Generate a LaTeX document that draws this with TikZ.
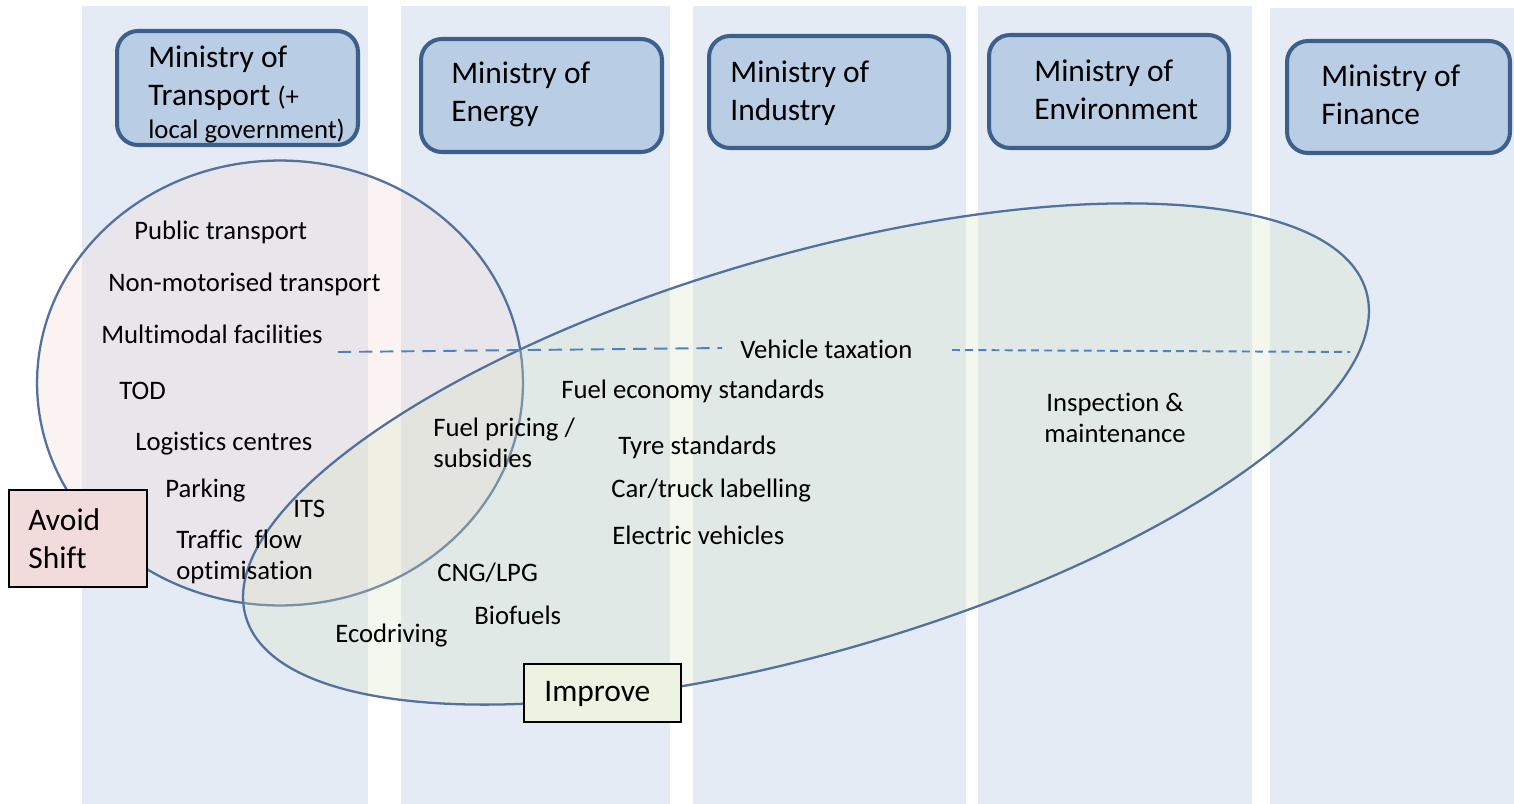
\documentclass[tikz,border=0pt]{standalone}
\usepackage{fontspec}
\setmainfont{Carlito}[Ligatures=NoCommon]
\definecolor{colbg}{HTML}{E4EBF5}
\definecolor{minfill}{HTML}{B9CDE5}
\definecolor{minline}{HTML}{3D5F8B}
\definecolor{ellline}{HTML}{52719F}
\definecolor{avoidfill}{HTML}{F2DCDB}
\definecolor{impfill}{HTML}{D7E4BD}
\definecolor{dashcol}{HTML}{4F81BD}
\begin{document}
\begin{tikzpicture}[x=0.02cm,y=-0.02cm,
  colstripe/.style={fill=colbg},
  minbox/.style={draw=minline, line width=2.3pt, fill=minfill, rounded corners=0.42cm, inner sep=0pt},
  mintext/.style={anchor=west, align=left, inner sep=0pt, font=\fontsize{17.9}{21.7}\selectfont},
  lbl/.style={anchor=west, align=left, inner sep=0pt, font=\fontsize{15.2}{18}\selectfont},
  avoidell/.style={draw=ellline, line width=1.3pt, fill=avoidfill, fill opacity=0.35},
  impell/.style={draw=ellline, line width=1.3pt, fill=impfill, fill opacity=0.28},
  catbox/.style={draw=black, line width=0.9pt, inner sep=0pt},
  vtdash/.style={draw=dashcol, line width=1.1pt, dash pattern=on 7.5pt off 4.5pt},
  vtdash2/.style={draw=dashcol, line width=1.1pt, dash pattern=on 4.5pt off 3pt}
]
\useasboundingbox (0,0) rectangle (1514,804);
% column stripes
\fill[colstripe] (82,6) rectangle (368,804);
\fill[colstripe] (401,6) rectangle (670,804);
\fill[colstripe] (693,6) rectangle (966,804);
\fill[colstripe] (978,6) rectangle (1252,804);
\fill[colstripe] (1270,8) rectangle (1514,804);

% ministry boxes
\node[minbox, minimum width=4.82cm, minimum height=2.28cm] (m1) at (237.5,88) {};
\node[minbox, minimum width=4.82cm, minimum height=2.26cm] (m2) at (541.5,95.5) {};
\node[minbox, minimum width=4.80cm, minimum height=2.24cm] (m3) at (829,92) {};
\node[minbox, minimum width=4.80cm, minimum height=2.26cm] (m4) at (1109,91.5) {};
\node[minbox, minimum width=4.46cm, minimum height=2.24cm] (m5) at (1398.5,97) {};

\node[mintext] (m1t) at (148,94) {Ministry of\\Transport {\fontsize{15.2}{17}\selectfont(+}\\[-3pt]{\fontsize{15.2}{17}\selectfont local government)}};
\node[mintext] (m2t) at (451,94.5) {Ministry of\\Energy};
\node[mintext] (m3t) at (730,93.5) {Ministry of\\Industry};
\node[mintext] (m4t) at (1034,89.5) {Ministry of\\Environment};
\node[mintext] (m5t) at (1321,94.5) {Ministry of\\Finance};

% avoid/shift ellipse and improve ellipse
\path[avoidell] (280,383) ellipse [x radius=4.86cm, y radius=4.45cm];
\path[impell] (806,454) ellipse [x radius=11.67cm, y radius=3.97cm, rotate=16.2];

% vehicle taxation dashed lines
\node[lbl] (vt) at (740,349) {Vehicle taxation};
\coordinate (d1a) at (338,352);
\coordinate (d1b) at (722,348);
\coordinate (d2a) at (952,350);
\coordinate (d2b) at (1350,352);
\draw[vtdash] (d1a) -- (d1b);
\draw[vtdash2] (d2a) -- (d2b);

% labels
\node[lbl] (pt) at (134,232) {Public transport};
\node[lbl] (nmt) at (108,284) {Non-motorised transport};
\node[lbl] (mmf) at (101,334) {Multimodal facilities};
\node[lbl] (tod) at (119,391) {TOD};
\node[lbl] (lc) at (135,444) {Logistics centres};
\node[lbl] (park) at (165,491) {Parking};
\node[lbl] (its) at (293,509) {ITS};
\node[lbl] (tfo) at (176,557) {Traffic\ \ flow\\optimisation};
\node[lbl] (fes) at (561,391) {Fuel economy standards};
\node[lbl] (fps) at (433,443) {Fuel pricing /\\subsidies};
\node[lbl] (tyre) at (618,447) {Tyre standards};
\node[lbl] (ctl) at (611,491) {Car/truck labelling};
\node[lbl] (ev) at (612,535) {Electric vehicles};
\node[lbl] (cng) at (437,573) {CNG/LPG};
\node[lbl] (bio) at (474,615) {Biofuels};
\node[lbl] (eco) at (335,636) {Ecodriving};
\node[lbl, align=center, anchor=center] (im) at (1115,418) {Inspection \&\\maintenance};

% category boxes
\node[catbox, fill=avoidfill, minimum width=2.76cm, minimum height=1.94cm] (as) at (78,538.5) {};
\node[mintext] (ast) at (28,539) {Avoid\\Shift};
\node[catbox, fill=impfill!45, minimum width=3.14cm, minimum height=1.16cm] (imp) at (602.5,693) {};
\node[mintext] (impt) at (544,694) {Improve};
\end{tikzpicture}
\end{document}
